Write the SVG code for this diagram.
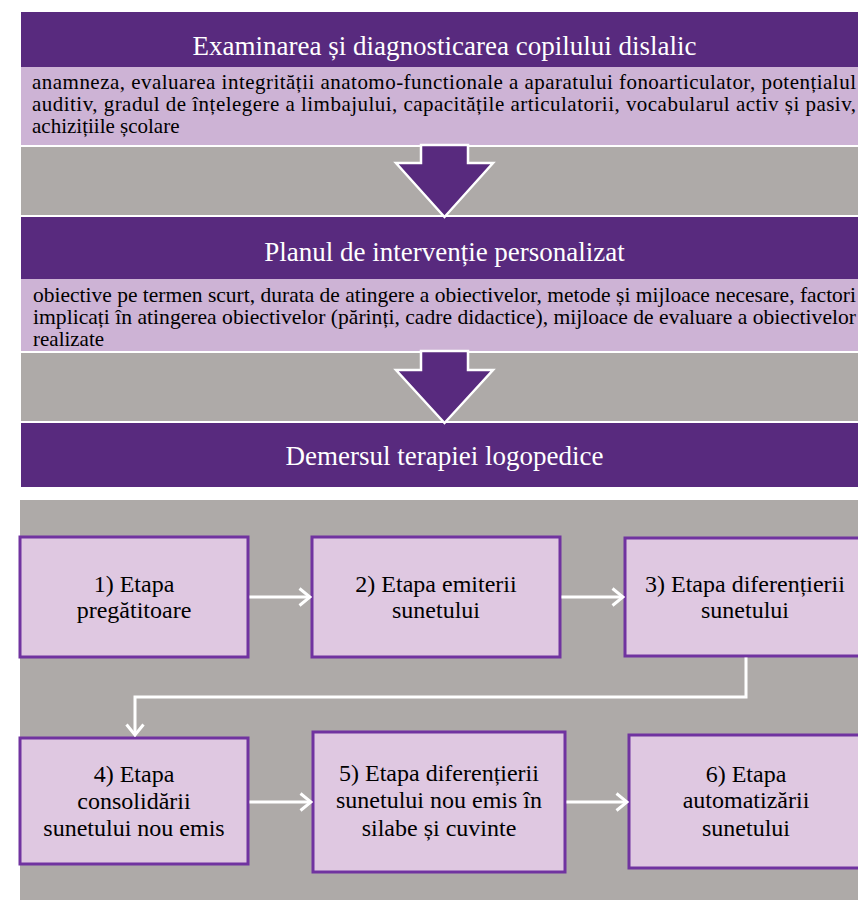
<svg xmlns="http://www.w3.org/2000/svg" width="858" height="900" viewBox="0 0 858 900">
<defs>
<style>
.hdr{fill:#582a7e}
.band{fill:#cdb3d5}
.gray{fill:#aeaaa8}
.hdrtxt,.body,.boxtxt{font-family:'Liberation Serif',serif !important}
.hdrtxt{font-size:27px;fill:#ffffff;text-anchor:middle}
.body{font-size:21px;fill:#000000}
.box{fill:#dfc8e1;stroke:#7033a0;stroke-width:3}
.boxtxt{font-size:24px;fill:#000000;text-anchor:middle}
.big{fill:#582a7e;stroke:#ffffff;stroke-width:2.5;stroke-linejoin:miter}
.conn{fill:none;stroke:#ffffff;stroke-width:3}
</style>
<marker id="chev" viewBox="0 0 14 20" refX="12" refY="10" markerWidth="14" markerHeight="20" markerUnits="userSpaceOnUse" orient="auto">
<path d="M1.5,1.5 L12,10 L1.5,18.5" fill="none" stroke="#ffffff" stroke-width="3"/>
</marker>
</defs>
<rect x="0" y="0" width="858" height="900" fill="#ffffff"/>

<rect class="gray" x="21" y="147" width="837" height="68"/>
<rect class="gray" x="21" y="353" width="837" height="68"/>
<rect class="gray" x="20" y="500" width="838" height="400"/>

<g id="node-examinarea">
<rect class="hdr" x="21" y="12" width="837" height="55"/>
<text class="hdrtxt" x="444.5" y="55" style="font-family:'Liberation Serif',serif">Examinarea și diagnosticarea copilului dislalic</text>
<rect class="band" x="21" y="67" width="837" height="78"/>
<text class="body" x="32" y="89" textLength="824" lengthAdjust="spacing" style="font-family:'Liberation Serif',serif">anamneza, evaluarea integrității anatomo-functionale a aparatului fonoarticulator, potențialul</text>
<text class="body" x="32" y="111" textLength="824" lengthAdjust="spacing" style="font-family:'Liberation Serif',serif">auditiv, gradul de înțelegere a limbajului, capacitățile articulatorii, vocabularul activ și pasiv,</text>
<text class="body" x="32" y="133" style="font-family:'Liberation Serif',serif">achizițiile școlare</text>
</g>

<g id="node-planul">
<rect class="hdr" x="21" y="217" width="837" height="62"/>
<text class="hdrtxt" x="444.5" y="261" style="font-family:'Liberation Serif',serif">Planul de intervenție personalizat</text>
<rect class="band" x="21" y="279" width="837" height="72"/>
<text class="body" x="33" y="302" textLength="823" lengthAdjust="spacingAndGlyphs" style="font-family:'Liberation Serif',serif">obiective pe termen scurt, durata de atingere a obiectivelor, metode și mijloace necesare, factori</text>
<text class="body" x="33" y="324" textLength="823" lengthAdjust="spacingAndGlyphs" style="font-family:'Liberation Serif',serif">implicați în atingerea obiectivelor (părinți, cadre didactice), mijloace de evaluare a obiectivelor</text>
<text class="body" x="33" y="346" style="font-family:'Liberation Serif',serif">realizate</text>
</g>

<g id="node-demersul">
<rect class="hdr" x="21" y="423" width="837" height="64"/>
<text class="hdrtxt" x="444.5" y="465" style="font-family:'Liberation Serif',serif">Demersul terapiei logopedice</text>
</g>

<g id="step1">
<rect class="box" x="20" y="537" width="228" height="120"/>
<text class="boxtxt" x="134" y="592" style="font-family:'Liberation Serif',serif">1) Etapa</text>
<text class="boxtxt" x="134" y="618" style="font-family:'Liberation Serif',serif">pregătitoare</text>
</g>
<g id="step2">
<rect class="box" x="312" y="537" width="248" height="120"/>
<text class="boxtxt" x="436" y="592" style="font-family:'Liberation Serif',serif">2) Etapa emiterii</text>
<text class="boxtxt" x="436" y="618" style="font-family:'Liberation Serif',serif">sunetului</text>
</g>
<g id="step3">
<rect class="box" x="625" y="538" width="240" height="118"/>
<text class="boxtxt" x="745" y="592" style="font-family:'Liberation Serif',serif">3) Etapa diferențierii</text>
<text class="boxtxt" x="745" y="618" style="font-family:'Liberation Serif',serif">sunetului</text>
</g>
<g id="step4">
<rect class="box" x="20" y="738" width="228" height="126"/>
<text class="boxtxt" x="134" y="782" style="font-family:'Liberation Serif',serif">4) Etapa</text>
<text class="boxtxt" x="134" y="809" style="font-family:'Liberation Serif',serif">consolidării</text>
<text class="boxtxt" x="134" y="836" style="font-family:'Liberation Serif',serif">sunetului nou emis</text>
</g>
<g id="step5">
<rect class="box" x="313" y="732" width="252" height="140"/>
<text class="boxtxt" x="439" y="781" style="font-family:'Liberation Serif',serif">5) Etapa diferențierii</text>
<text class="boxtxt" x="439" y="808" style="font-family:'Liberation Serif',serif">sunetului nou emis în</text>
<text class="boxtxt" x="439" y="836" style="font-family:'Liberation Serif',serif">silabe și cuvinte</text>
</g>
<g id="step6">
<rect class="box" x="629" y="735" width="236" height="133"/>
<text class="boxtxt" x="746" y="782" style="font-family:'Liberation Serif',serif">6) Etapa</text>
<text class="boxtxt" x="746" y="808" style="font-family:'Liberation Serif',serif">automatizării</text>
<text class="boxtxt" x="746" y="836" style="font-family:'Liberation Serif',serif">sunetului</text>
</g>

<g id="connectors">
<path class="big" d="M421,145 L468,145 L468,163 L493,163 L444.5,217 L396,163 L421,163 Z"/>
<path class="big" d="M421,351 L468,351 L468,370 L493,370 L444.5,423 L396,370 L421,370 Z"/>
<path class="conn" d="M249.5,597 L310,597" marker-end="url(#chev)"/>
<path class="conn" d="M561.5,597 L623,597" marker-end="url(#chev)"/>
<path class="conn" d="M746,657.5 L746,697 L135,697 L135,735" marker-end="url(#chev)"/>
<path class="conn" d="M249.5,802 L311,802" marker-end="url(#chev)"/>
<path class="conn" d="M566.5,802 L627,802" marker-end="url(#chev)"/>
</g>
</svg>
